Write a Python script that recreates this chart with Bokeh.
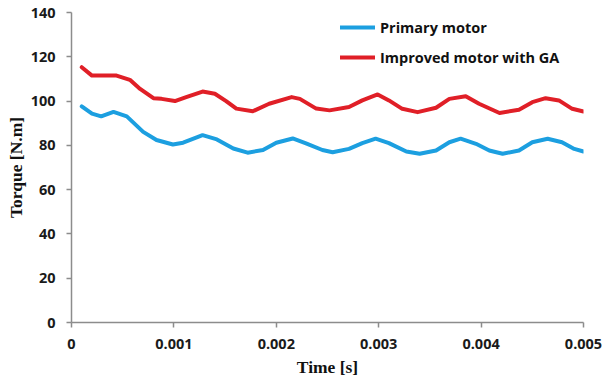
from bokeh.plotting import figure
from bokeh.models import Range1d, FixedTicker, Legend, LegendItem
from bokeh.embed import file_html
from bokeh.resources import INLINE

# Torque over time, time in seconds
t_primary = [0.00010, 0.00020, 0.00029, 0.00041, 0.00054, 0.00070, 0.00083, 0.00099,
             0.00109, 0.00128, 0.00142, 0.00158, 0.00172, 0.00187, 0.00200, 0.00216,
             0.00229, 0.00245, 0.00255, 0.00271, 0.00284, 0.00297, 0.00310, 0.00327,
             0.00340, 0.00356, 0.00369, 0.00380, 0.00395, 0.00408, 0.00421, 0.00437,
             0.00450, 0.00465, 0.00479, 0.00491, 0.00500]
torque_primary = [97.6, 94.3, 93.1, 95.1, 93.1, 86.1, 82.4, 80.4,
                  81.2, 84.6, 82.7, 78.6, 76.7, 77.9, 81.2, 83.1,
                  80.9, 77.9, 76.9, 78.4, 81.0, 83.0, 81.0, 77.2,
                  76.2, 77.7, 81.4, 83.0, 80.7, 77.7, 76.2, 77.7,
                  81.4, 83.0, 81.4, 78.4, 77.2]

t_improved = [0.00010, 0.00020, 0.00044, 0.00057, 0.00067, 0.00080, 0.00088, 0.00101,
              0.00112, 0.00128, 0.00140, 0.00151, 0.00161, 0.00177, 0.00193, 0.00215,
              0.00223, 0.00239, 0.00252, 0.00271, 0.00284, 0.00299, 0.00310, 0.00323,
              0.00338, 0.00356, 0.00369, 0.00385, 0.00398, 0.00418, 0.00437, 0.00450,
              0.00463, 0.00476, 0.00489, 0.00500]
torque_improved = [115.3, 111.5, 111.5, 109.6, 105.5, 101.3, 101.0, 100.0,
                   101.8, 104.3, 103.3, 100.0, 96.6, 95.4, 98.8, 101.8,
                   101.0, 96.6, 95.8, 97.3, 100.3, 103.0, 100.3, 96.5,
                   95.0, 97.0, 101.0, 102.2, 98.8, 94.6, 96.1, 99.5,
                   101.3, 100.3, 96.5, 95.3]

x_ticks = [0, 0.001, 0.002, 0.003, 0.004, 0.005]
x_tick_labels = ["0", "0.001", "0.002", "0.003", "0.004", "0.005"]
y_ticks = [0, 20, 40, 60, 80, 100, 120, 140]

series_names = ["Primary motor", "Improved motor with GA"]
series_colors = ["#1C9FE0", "#E01F27"]

p = figure(width=603, height=385, output_backend="svg", toolbar_location=None,
           x_range=Range1d(0, 0.005), y_range=Range1d(0, 140),
           min_border_left=71, min_border_right=20, min_border_top=12,
           min_border_bottom=63)
p.outline_line_color = None
p.xgrid.visible = False
p.ygrid.visible = False
p.background_fill_color = "white"
p.border_fill_color = "white"

r1 = p.line(t_primary, torque_primary, line_color=series_colors[0], line_width=4,
            line_join="round", line_cap="round")
r2 = p.line(t_improved, torque_improved, line_color=series_colors[1], line_width=4,
            line_join="round", line_cap="round")

axis_gray = "#8C8C8C"
for ax in (p.xaxis[0], p.yaxis[0]):
    ax.axis_line_color = axis_gray
    ax.axis_line_width = 1.5
    ax.major_tick_line_color = axis_gray
    ax.major_tick_line_width = 1.5
    ax.major_tick_out = 5
    ax.major_tick_in = 0
    ax.minor_tick_line_color = None
    ax.major_label_text_font = "Open Sans"
    ax.major_label_text_font_style = "bold"
    ax.major_label_text_font_size = "14.5px"
    ax.major_label_text_color = "#1A1A1A"
    ax.axis_label_text_font = "Liberation Serif"
    ax.axis_label_text_font_style = "bold"
    ax.axis_label_text_font_size = "17.5px"
    ax.axis_label_text_color = "#111111"

p.xaxis.ticker = FixedTicker(ticks=x_ticks)
p.xaxis.major_label_overrides = {t: s for t, s in zip(x_ticks, x_tick_labels)}
p.xaxis.major_label_standoff = 11
p.xaxis.axis_label = "Time [s]"
p.xaxis.axis_label_standoff = 5

p.yaxis.ticker = FixedTicker(ticks=y_ticks)
p.yaxis.major_label_standoff = 11
p.yaxis.axis_label = "Torque [N.m]"
p.yaxis.axis_label_standoff = 2

legend = Legend(items=[LegendItem(label=series_names[0], renderers=[r1]),
                       LegendItem(label=series_names[1], renderers=[r2])],
                location=(269, 255))
legend.border_line_color = None
legend.background_fill_alpha = 0
legend.padding = 0
legend.margin = 0
legend.spacing = 10
legend.glyph_width = 35
legend.glyph_height = 20
legend.label_height = 20
legend.label_standoff = 5
legend.label_text_font = "Open Sans"
legend.label_text_font_style = "bold"
legend.label_text_font_size = "14.5px"
legend.label_text_color = "#111111"
p.add_layout(legend)

open("out.html", "w").write(file_html(p, INLINE))
